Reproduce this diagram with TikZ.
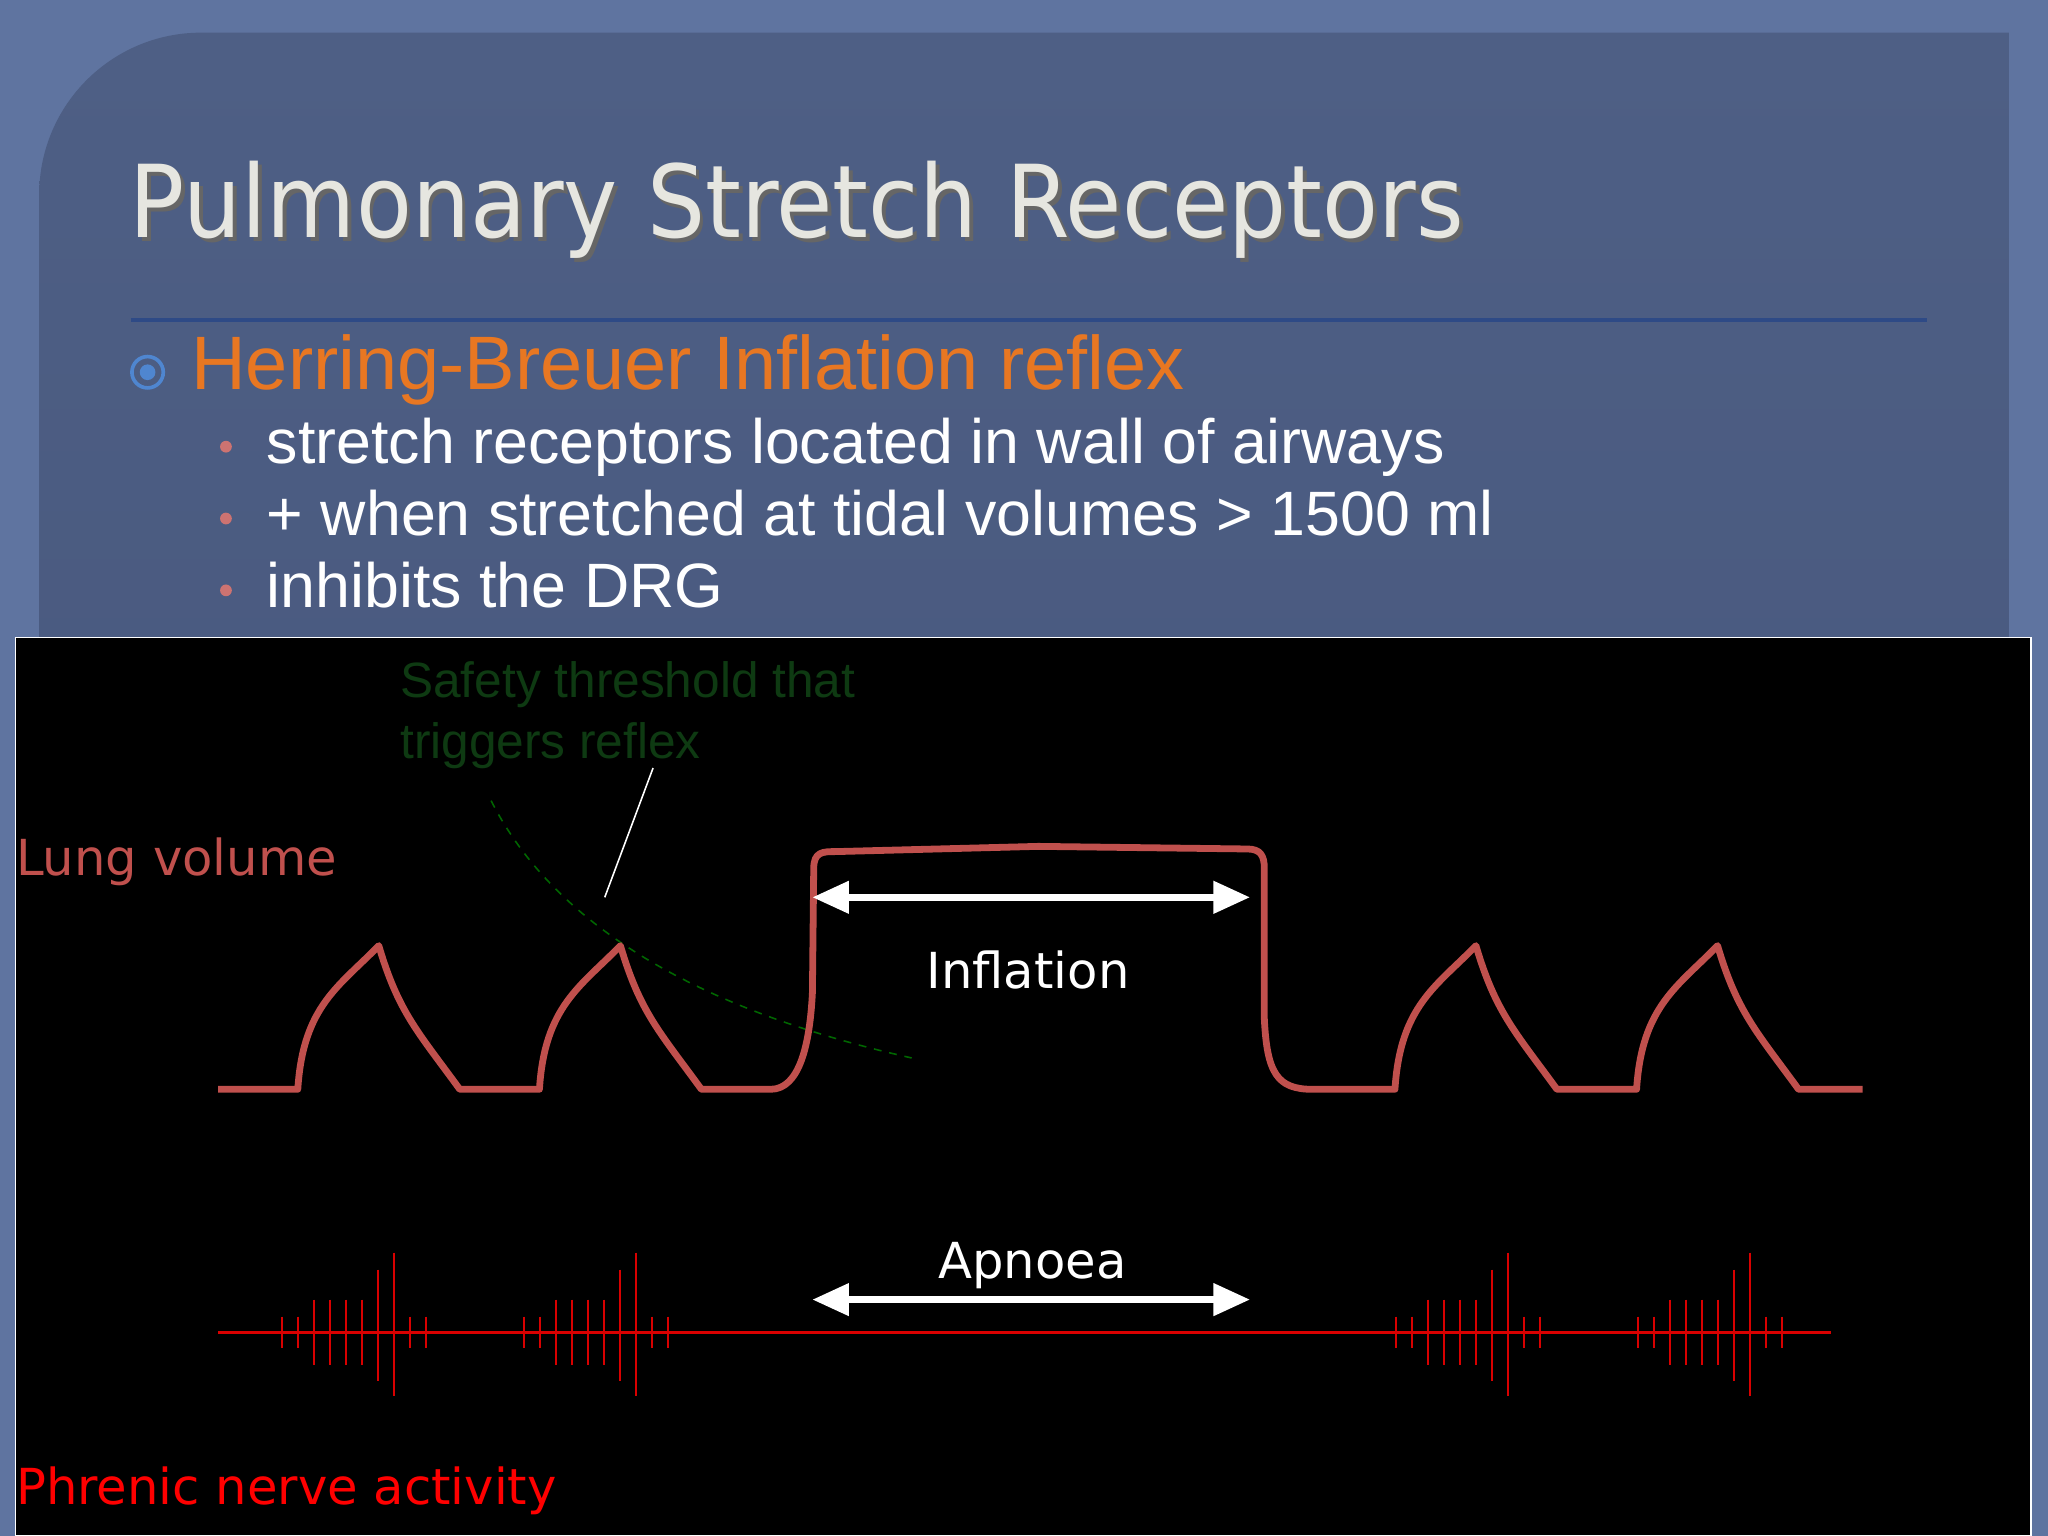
\documentclass[tikz,border=0pt]{standalone}
\usepackage{fontspec}
\setmainfont{DejaVu Sans}
\newfontfamily\arialf{Liberation Sans}
\newfontfamily\titlef[FakeStretch=0.91]{DejaVu Sans}
\usetikzlibrary{arrows.meta}
\definecolor{slidebg}{HTML}{5F74A0}
\definecolor{panel}{HTML}{4E5F85}
\definecolor{panel2}{HTML}{45557A}
\definecolor{titlec}{HTML}{E6E6E0}
\definecolor{headc}{HTML}{E87722}
\definecolor{lungc}{HTML}{C0504D}
\definecolor{rulec}{HTML}{2E4A86}
\definecolor{safec}{HTML}{0E3A12}
\definecolor{tgt}{HTML}{4F86D0}
\tikzset{
 lung/.style={draw=lungc,line width=2.6pt,line join=round},
 spk/.style={draw=red!85!black,line width=0.9pt},
 dbl/.style={draw=white,line width=2.5pt,{Triangle[width=12pt,length=14pt]}-{Triangle[width=12pt,length=14pt]}},
 txt/.style={anchor=base west,inner sep=0pt}
}
\begin{document}
\begin{tikzpicture}[x=0.5pt,y=-0.5pt]
\useasboundingbox (0,0) rectangle (1568,1176);
\fill[slidebg] (0,0) rectangle (1568,1176);
\shade[top color=panel,bottom color=panel2] (30,1176) [rounded corners=62pt] -- (30,25) [sharp corners] -- (1538,25) -- (1538,1176) -- cycle;
\node[txt,text=black!60,font=\titlef\fontsize{38.5}{44}\selectfont] (ts) at (102,185) {Pulmonary Stretch Receptors};
\node[txt,text=titlec,font=\titlef\fontsize{38.5}{44}\selectfont] (title) at (99,182) {Pulmonary Stretch Receptors};
\draw[rulec,line width=1.2pt] (100,245) -- (1475,245);
\draw[draw=tgt,line width=1.4pt] (113,285) circle[radius=12];
\fill[tgt] (113,285) circle[radius=6];
\node[txt,text=headc,font=\arialf\fontsize{29}{34}\selectfont] (head) at (146,298) {Herring-Breuer Inflation reflex};
\foreach \y/\t in {355/stretch receptors located in wall of airways,410/+ when stretched at tidal volumes > 1500 ml,465/inhibits the DRG}{
 \fill[lungc!80] (173,\y-13) circle[radius=4.5];
 \node[txt,text=white,font=\arialf\fontsize{24}{28}\selectfont] at (204,\y) {\t};
}
% black panel
\fill[black] (12,488) rectangle (1555,1176);
\draw[white,line width=0.6pt] (12,488) rectangle (1555,1176);
\node[txt,text=safec,font=\arialf\fontsize{19}{22}\selectfont] (safe1) at (306,534) {Safety threshold that};
\node[txt,text=safec,font=\arialf\fontsize{19}{22}\selectfont] (safe2) at (306,581) {triggers reflex};
\draw[white,line width=0.6pt] (500,588) -- (463,687);
\draw[green!40!black,dashed,line width=0.6pt] (376,613) .. controls (420,700) and (520,770) .. (698,810);
\node[txt,text=lungc,font=\fontsize{19}{22}\selectfont] (lv) at (12,670) {Lung volume};
\node[txt,text=red,font=\fontsize{19}{22}\selectfont] (pn) at (12,1152) {Phrenic nerve activity};
% lung volume trace
\draw[lung] (167,834) -- (228,834) .. controls (232,770) and (260,755) .. (290,724) .. controls (305,775) and (320,790) .. (352,834)
 -- (413,834) .. controls (417,770) and (445,755) .. (475,724) .. controls (490,775) and (505,790) .. (537,834)
 -- (590,834) .. controls (612,834) and (620,800) .. (622,760) -- (623,665) .. controls (623,652) and (630,652) .. (640,652)
 -- (795,648) -- (955,650) .. controls (965,650) and (968,655) .. (968,665) -- (968,780) .. controls (970,822) and (978,834) .. (1005,834)
 -- (1068,834) .. controls (1072,770) and (1100,755) .. (1130,724) .. controls (1145,775) and (1160,790) .. (1192,834)
 -- (1253,834) .. controls (1257,770) and (1285,755) .. (1315,724) .. controls (1330,775) and (1345,790) .. (1377,834) -- (1426,834);
\coordinate (ia) at (622,687); \coordinate (ib) at (957,687);
\draw[dbl] (ia) -- (ib);
\node[txt,text=white,font=\fontsize{19}{22}\selectfont] (infl) at (709,757) {Inflation};
\coordinate (aa) at (622,995); \coordinate (ab) at (957,995);
\draw[dbl] (aa) -- (ab);
\node[txt,text=white,font=\fontsize{19}{22}\selectfont] (apn) at (718,979) {Apnoea};
% phrenic
\draw[red!85!black,line width=1pt] (167,1020) -- (1402,1020);
\foreach \bx in {216,401,1069,1254}{
 \foreach \i/\u/\d in {0/12/12,1/12/12,2/25/25,3/25/25,4/25/25,5/25/25,6/48/37,7/61/49,8/12/12,9/12/12}{
  \draw[spk] (\bx+\i*12.25,1020-\u) -- (\bx+\i*12.25,1020+\d);
 }
}
\end{tikzpicture}
\end{document}
